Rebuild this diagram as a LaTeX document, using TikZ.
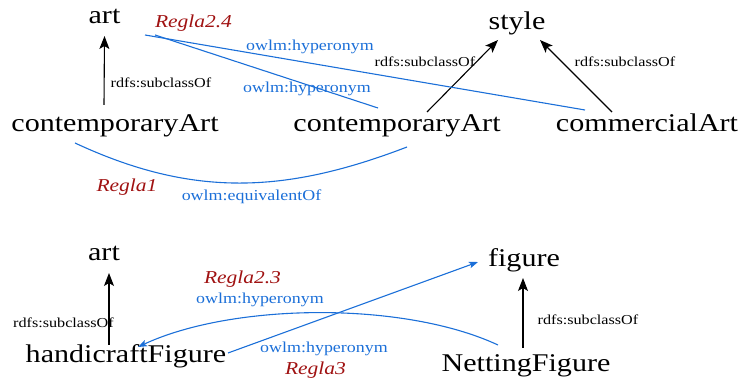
\documentclass[tikz,border=0pt]{standalone}
\usepackage{fontspec}
\setmainfont{Liberation Serif}[FakeStretch=1.18]
\usetikzlibrary{arrows.meta}
\definecolor{owlblue}{HTML}{1B6FD8}
\definecolor{reglared}{HTML}{A01212}

\tikzset{
  concept/.style={font=\fontsize{25.5}{28}\selectfont, inner sep=0pt, anchor=base},
  rdfs/.style={font=\fontsize{13.7}{16}\selectfont, inner sep=0pt, anchor=base},
  owlm/.style={text=owlblue, font=\fontsize{15.2}{18}\selectfont, inner sep=0pt, anchor=base},
  regla/.style={text=reglared, font=\fontsize{18.2}{21}\selectfont\itshape, inner sep=0pt, anchor=base},
  sub/.style={draw=black, line width=1.1pt, -{Stealth[length=13pt,width=10pt,inset=3pt]}},
  rel/.style={draw=owlblue, line width=1.1pt},
  relarr/.style={rel, -{Stealth[length=9pt,width=6.5pt,inset=2pt]}},
}

\begin{document}
\begin{tikzpicture}[x=1pt, y=1pt]
  \useasboundingbox (0,0) rectangle (743,379);

  % upper example: art / style
  \node[concept] (artT)   at (104.5,355.5) {art};
  \node[concept] (caL)    at (115,247.5)   {contemporaryArt};
  \node[concept] (caM)    at (397,247.5)   {contemporaryArt};
  \node[concept] (styleT) at (517,349)     {style};
  \node[concept] (coA)    at (647,247.5)   {commercialArt};

  \node[rdfs]  (sub1) at (161,291.6)   {rdfs:subclassOf};
  \node[rdfs]  (sub2) at (425,312.5)   {rdfs:subclassOf};
  \node[rdfs]  (sub3) at (625,312.5)   {rdfs:subclassOf};
  \node[regla] (r24)  at (193.5,351)   {Regla2.4};
  \node[owlm]  (hyp1) at (310,328.5)   {owlm:hyperonym};
  \node[owlm]  (hyp2) at (307,286.5)   {owlm:hyperonym};
  \node[regla] (r1)   at (127,187)     {Regla1};
  \node[owlm]  (eqv)  at (251.5,178.6) {owlm:equivalentOf};

  \draw[sub] ([xshift=-11pt,yshift=26.5pt]caL.base) -- ([yshift=-12.5pt]artT.base);
  \draw[sub] ([xshift=30pt,yshift=19.5pt]caM.base) -- ([xshift=-19pt,yshift=-10pt]styleT.base);
  \draw[sub] ([xshift=-35pt,yshift=19.5pt]coA.base) -- ([xshift=23pt,yshift=-10pt]styleT.base);

  \draw[rel] ([xshift=40.5pt,yshift=-11.5pt]artT.base) -- ([xshift=-62pt,yshift=21.5pt]coA.base);
  \draw[rel] ([xshift=50.5pt,yshift=-11.5pt]artT.base) -- ([xshift=-19pt,yshift=23.5pt]caM.base);
  \draw[rel] ([xshift=-40pt,yshift=-11.5pt]caL.base) to[out=-25, in=201] ([xshift=10pt,yshift=-15.5pt]caM.base);

  % lower example: art / figure
  \node[concept] (artB) at (104,118)   {art};
  \node[concept] (figB) at (524,112.5) {figure};
  \node[concept] (hcF)  at (126,16)    {handicraftFigure};
  \node[concept] (netF) at (526,7.5)   {NettingFigure};

  \node[rdfs]  (sub4) at (63.5,51.5) {rdfs:subclassOf};
  \node[rdfs]  (sub5) at (588,54.5)  {rdfs:subclassOf};
  \node[regla] (r23)  at (242.5,95)  {Regla2.3};
  \node[owlm]  (hyp3) at (260,75.5)  {owlm:hyperonym};
  \node[owlm]  (hyp4) at (324,26.5)  {owlm:hyperonym};
  \node[regla] (r3)   at (315.5,4)   {Regla3};

  \draw[sub] ([xshift=-17pt,yshift=18pt]hcF.base) -- ([xshift=5pt,yshift=-12pt]artB.base);
  \draw[sub] ([xshift=-3pt,yshift=23.5pt]netF.base) -- ([xshift=-1pt,yshift=-11.5pt]figB.base);

  \draw[relarr] ([xshift=102pt,yshift=10pt]hcF.base) -- ([xshift=-46pt,yshift=4.5pt]figB.base);
  \draw[relarr] ([xshift=-28pt,yshift=26.5pt]netF.base) to[out=155, in=25, looseness=0.74] ([xshift=12pt,yshift=16pt]hcF.base);
\end{tikzpicture}
\end{document}
